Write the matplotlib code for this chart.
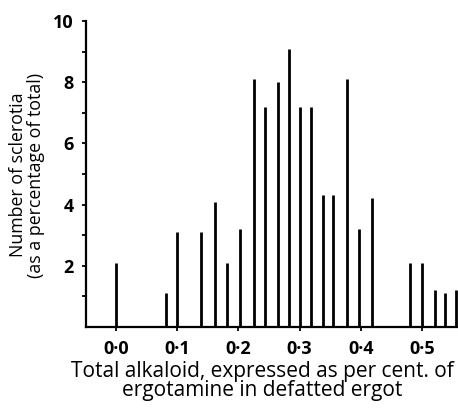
import matplotlib
matplotlib.use("Agg")
import matplotlib.pyplot as plt

# alkaloid content (per cent ergotamine) and share of sclerotia (%)
alkaloid = [0.0, 0.082, 0.100, 0.139, 0.162, 0.182, 0.202, 0.226, 0.244, 0.264,
            0.283, 0.300, 0.318, 0.338, 0.355, 0.377, 0.397, 0.418,
            0.480, 0.500, 0.521, 0.538, 0.556]
percent = [2.1, 1.1, 3.1, 3.1, 4.1, 2.1, 3.2, 8.1, 7.2, 8.0,
           9.1, 7.2, 7.2, 4.3, 4.3, 8.1, 3.2, 4.2,
           2.1, 2.1, 1.2, 1.1, 1.2]

xticks = [0.0, 0.1, 0.2, 0.3, 0.4, 0.5]
xticklabels = ["0·0", "0·1", "0·2", "0·3", "0·4", "0·5"]
yticks = [2, 4, 6, 8, 10]

plt.rcParams['font.family'] = ['Open Sans', 'DejaVu Sans']

fig = plt.figure(figsize=(4.58, 4.08), dpi=100)
ax = fig.add_axes([86/458, 81/408, 372/458, 306/408])

ax.vlines(alkaloid, 0, percent, colors='black', linewidth=2.0)

ax.set_xlim(-0.049, 0.559)
ax.set_ylim(0, 10)
ax.set_xticks(xticks)
ax.set_xticklabels(xticklabels, fontsize=13, fontweight='bold')
ax.set_yticks(yticks)
ax.set_yticks(range(1, 11), minor=True)
ax.set_yticklabels([str(v) for v in yticks], fontsize=13, fontweight='bold')
ax.tick_params(axis='both', which='both', direction='out', length=3, width=1.3, pad=6)
ax.tick_params(axis='y', which='minor', labelleft=False)

for s in ['top', 'right']:
    ax.spines[s].set_visible(False)
for s in ['left', 'bottom']:
    ax.spines[s].set_linewidth(1.6)

fig.text(27/458, 1 - 175/408, "Number of sclerotia\n(as a percentage of total)",
         rotation=90, ha='center', va='center', fontsize=12.8, linespacing=0.95)
fig.text(262/458, 1 - 381/408, "Total alkaloid, expressed as per cent. of\nergotamine in defatted ergot",
         ha='center', va='center', fontsize=15, linespacing=0.92)

fig.savefig("out.png", dpi=100)
